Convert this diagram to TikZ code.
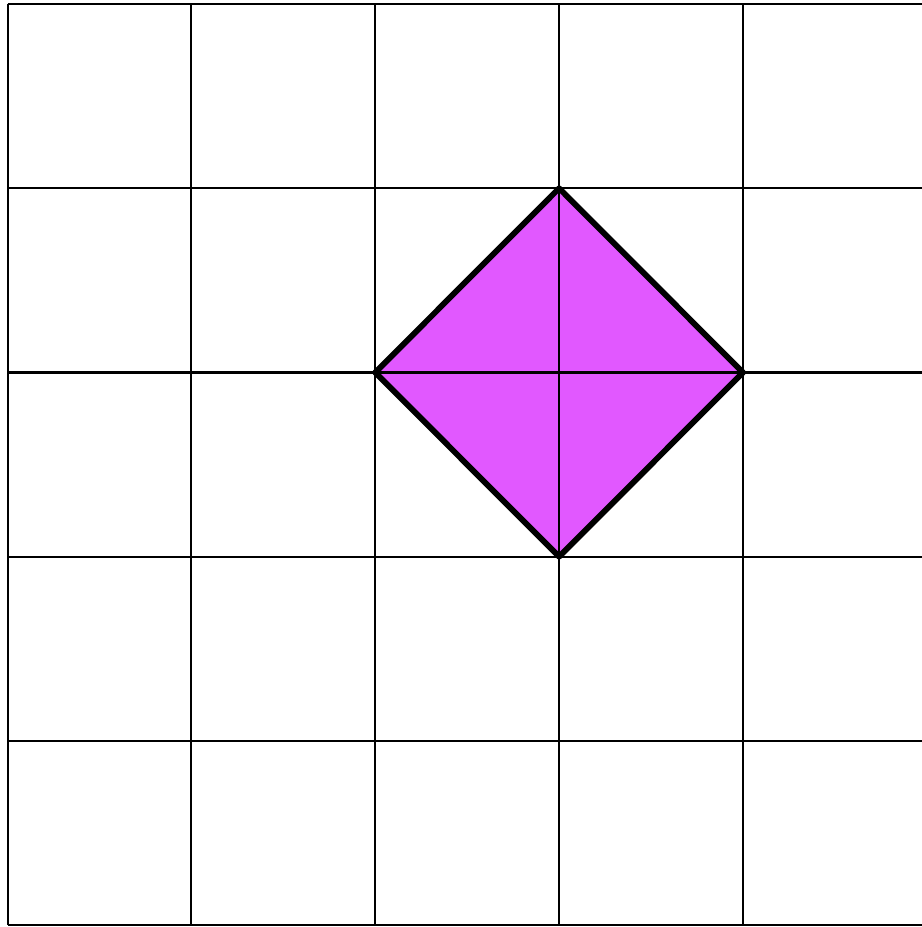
\documentclass[tikz,border=0pt]{standalone}
\definecolor{diafill}{RGB}{225,88,255}
\begin{document}
\begin{tikzpicture}[x=1cm,y=1.002cm,
  gridline/.style={black,line width=0.32pt},
  diaedge/.style={black,line width=0.9pt,line join=round}]
\useasboundingbox (-0.041,-0.010) rectangle (4.970,5.022);
\coordinate (T) at (3,4);
\coordinate (R) at (4,3);
\coordinate (B) at (3,2);
\coordinate (L) at (2,3);
\fill[diafill] (T) -- (R) -- (B) -- (L) -- cycle;
\foreach \i in {0,...,5} {
  \draw[gridline] (\i,0) -- (\i,5);
  \draw[gridline] (0,\i) -- (5,\i);
}
\draw[diaedge] (T) -- (R) -- (B) -- (L) -- cycle;
\end{tikzpicture}
\end{document}
